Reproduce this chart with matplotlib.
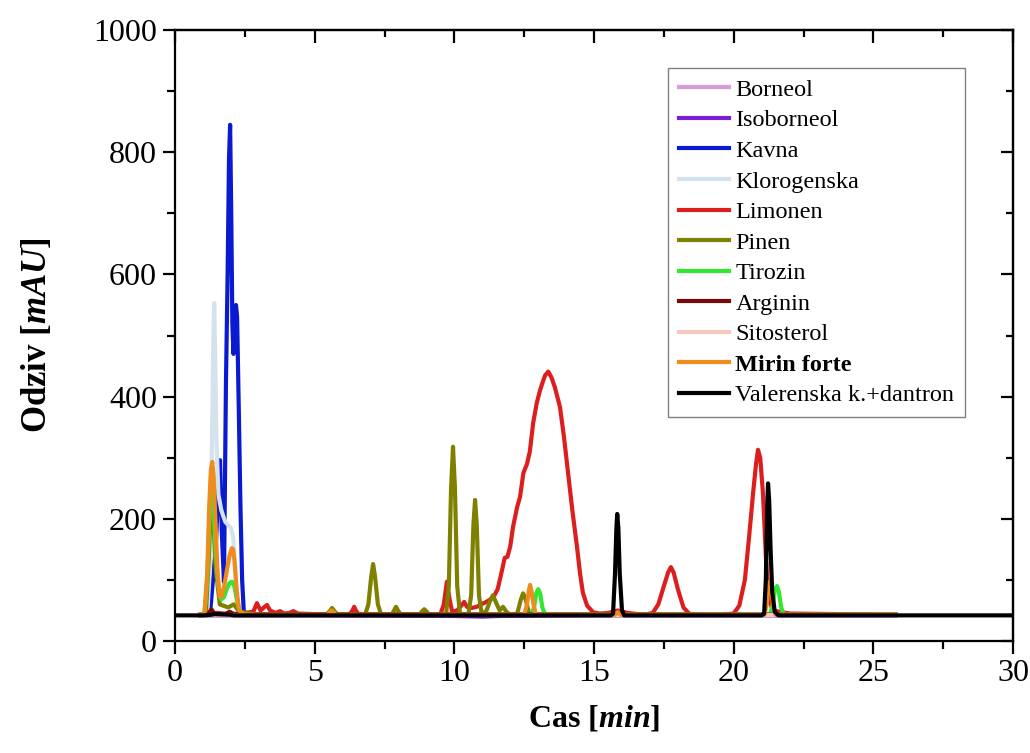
import matplotlib
matplotlib.use("Agg")
import matplotlib.pyplot as plt
from matplotlib.ticker import MultipleLocator

plt.rcParams['font.family'] = ['Liberation Serif', 'DejaVu Serif']
plt.rcParams['mathtext.fontset'] = 'custom'
plt.rcParams['mathtext.it'] = 'Liberation Serif:italic:bold'
plt.rcParams['mathtext.rm'] = 'Liberation Serif:bold'

# ---------------- data (time [min], response [mAU]) ----------------
borneol_t = [0.9, 5.0, 10.0, 15.0, 20.0, 25.8]
borneol_v = [43, 43, 43, 43, 43, 43]

isoborneol_t = [0.9, 5.0, 10.0, 11.0, 11.6, 15.0, 20.0, 25.8]
isoborneol_v = [42, 42, 41, 40, 41, 42, 42, 42]

kavna_t = [0.9, 1.25, 1.45, 1.55, 1.61, 1.67, 1.75, 1.82, 1.88, 1.93, 1.97, 2.01,
           2.05, 2.09, 2.14, 2.18, 2.22, 2.28, 2.34, 2.40, 2.46, 2.6, 3.0, 25.8]
kavna_v = [43, 45, 150, 250, 296, 180, 97, 420, 600, 790, 845, 700,
           520, 470, 510, 550, 530, 380, 220, 100, 48, 44, 43, 43]

klorogenska_t = [0.9, 1.15, 1.25, 1.32, 1.37, 1.40, 1.43, 1.48, 1.55, 1.65, 1.72, 1.80,
                 1.90, 2.00, 2.08, 2.15, 2.22, 2.30, 2.5, 25.8]
klorogenska_v = [43, 45, 120, 320, 500, 553, 480, 330, 240, 215, 205, 195,
                 190, 185, 170, 120, 70, 46, 43, 43]

limonen_t = [0.9, 1.2, 1.5, 2.0, 2.5, 2.8, 2.93, 3.06, 3.18, 3.29, 3.4, 3.6, 3.76, 3.9,
             4.1, 4.23, 4.4, 5.0, 6.25, 6.35, 6.41, 6.47, 6.57, 9.5, 9.62, 9.73, 9.82,
             9.92, 10.1, 10.25, 10.35, 10.45, 10.6, 10.8, 10.95, 11.1, 11.25, 11.4, 11.55,
             11.7, 11.8, 11.9, 12.0, 12.1, 12.25, 12.35, 12.47, 12.6, 12.7, 12.82, 12.95,
             13.07, 13.17, 13.25, 13.36, 13.47, 13.6, 13.78, 13.92, 14.07, 14.22, 14.39,
             14.5, 14.6, 14.75, 14.97, 15.2, 15.5, 15.85, 16.2, 16.6, 16.9, 17.1, 17.3,
             17.5, 17.65, 17.75, 17.85, 18.0, 18.2, 18.4, 18.6, 19.5, 20.0, 20.2, 20.4,
             20.55, 20.7, 20.8, 20.87, 20.95, 21.05, 21.15, 21.25, 21.4, 22.0, 25.8]
limonen_v = [43, 45, 46, 44, 46, 48, 62, 50, 55, 59, 50, 46, 49, 45,
             46, 49, 45, 44, 44, 50, 56, 50, 44, 44, 60, 97, 70,
             48, 50, 58, 64, 56, 54, 56, 60, 63, 67, 72, 85,
             115, 136, 138, 155, 187, 220, 236, 275, 290, 310, 357, 390,
             411, 425, 435, 441, 432, 415, 383, 335, 275, 215, 154,
             110, 79, 58, 47, 45, 46, 50, 46, 44, 44, 46, 60,
             90, 112, 121, 112, 85, 55, 45, 43, 43, 45, 58, 100,
             170, 245, 290, 313, 300, 240, 140, 70, 50, 45, 43]

pinen_t = [0.9, 1.1, 1.2, 1.27, 1.32, 1.37, 1.45, 1.6, 1.9, 2.1, 2.3, 3.0, 5.4, 5.52,
           5.62, 5.72, 5.84, 6.8, 6.92, 7.02, 7.09, 7.16, 7.26, 7.38, 7.75, 7.84, 7.91,
           7.98, 8.08, 8.75, 8.85, 8.92, 8.99, 9.1, 9.7, 9.8, 9.88, 9.95, 10.02, 10.1,
           10.2, 10.5, 10.6, 10.68, 10.74, 10.8, 10.88, 10.98, 11.15, 11.28, 11.38, 11.5,
           11.62, 11.74, 11.86, 12.0, 12.25, 12.38, 12.46, 12.55, 12.68, 13.0, 25.8]
pinen_v = [43, 45, 130, 210, 230, 200, 120, 60, 55, 60, 48, 43, 43, 48,
           54, 48, 43, 43, 60, 105, 126, 105, 60, 43, 43, 50, 56,
           50, 43, 43, 49, 52, 49, 43, 43, 90, 250, 318, 250, 90,
           45, 43, 75, 190, 231, 190, 75, 43, 50, 66, 75, 62,
           50, 56, 48, 43, 45, 68, 78, 68, 45, 43, 43]

tirozin_t = [0.9, 1.05, 1.15, 1.22, 1.28, 1.32, 1.37, 1.45, 1.55, 1.65, 1.75, 1.85,
             1.95, 2.04, 2.12, 2.2, 2.3, 2.45, 3.0, 5.5, 5.65, 5.8, 12.75, 12.85,
             12.93, 13.0, 13.07, 13.15, 13.25, 21.3, 21.4, 21.48, 21.55, 21.62, 21.7,
             21.8, 25.8]
tirozin_v = [43, 45, 100, 190, 240, 247, 220, 150, 90, 68, 72, 85,
             95, 97, 90, 70, 50, 44, 43, 43, 48, 43, 43, 55,
             78, 85, 78, 55, 43, 43, 60, 85, 90, 80, 55,
             43, 43]

arginin_t = [0.9, 1.2, 1.3, 1.4, 1.8, 1.95, 2.1, 25.8]
arginin_v = [43, 45, 52, 45, 44, 48, 44, 43]

sitosterol_t = [0.9, 5.0, 10.0, 15.0, 20.0, 25.8]
sitosterol_v = [43, 43, 43, 43, 43, 43]

mirin_t = [0.9, 1.05, 1.15, 1.22, 1.28, 1.33, 1.38, 1.45, 1.52, 1.60, 1.68, 1.76,
           1.85, 1.95, 2.03, 2.08, 2.13, 2.20, 2.28, 2.36, 2.5, 3.0, 5.45, 5.6, 5.75,
           12.5, 12.6, 12.66, 12.71, 12.76, 12.83, 12.92, 15.75, 15.85, 15.95, 21.1,
           21.18, 21.24, 21.29, 21.34, 21.42, 21.5, 25.8]
mirin_v = [43, 45, 110, 220, 280, 293, 270, 190, 110, 72, 75, 90,
           115, 140, 152, 150, 130, 85, 55, 45, 44, 43, 43, 50, 43,
           43, 60, 82, 92, 82, 60, 43, 43, 47, 43, 43,
           60, 90, 97, 85, 55, 43, 43]

valerenska_t = [0.0, 1.0, 1.3, 1.4, 2.0, 2.1, 15.6, 15.68, 15.75, 15.8, 15.83, 15.87,
                15.92, 16.0, 16.08, 21.0, 21.09, 21.15, 21.2, 21.23, 21.27, 21.32,
                21.38, 21.47, 21.6, 30.0]
valerenska_v = [42, 42, 43, 44, 43, 42, 42, 45, 110, 185, 208, 185,
                110, 50, 42, 42, 45, 100, 220, 258, 230, 150,
                80, 48, 42, 42]

series_names = ['Borneol', 'Isoborneol', 'Kavna', 'Klorogenska', 'Limonen', 'Pinen',
                'Tirozin', 'Arginin', 'Sitosterol', 'Mirin forte', 'Valerenska k.+dantron']
series_t = [borneol_t, isoborneol_t, kavna_t, klorogenska_t, limonen_t, pinen_t,
            tirozin_t, arginin_t, sitosterol_t, mirin_t, valerenska_t]
series_v = [borneol_v, isoborneol_v, kavna_v, klorogenska_v, limonen_v, pinen_v,
            tirozin_v, arginin_v, sitosterol_v, mirin_v, valerenska_v]
colors = ['#d99ad9', '#7a1fd6', '#0a1ad0', '#d3e2ec', '#dc1e1e', '#808000',
          '#30e830', '#7a0a0a', '#f4c7bf', '#f08c1e', '#000000']

# ---------------- figure ----------------
fig = plt.figure(figsize=(10.30, 7.53), dpi=100)
ax = fig.add_axes([0.170, 0.1487, 0.8135, 0.8113])

for name, t, v, c in zip(series_names, series_t, series_v, colors):
    ax.plot(t, v, color=c, lw=3.0, label=name, solid_joinstyle='round')

ax.set_xlim(0, 30)
ax.set_ylim(0, 1000)
ax.xaxis.set_major_locator(MultipleLocator(5))
ax.xaxis.set_minor_locator(MultipleLocator(2.5))
ax.yaxis.set_major_locator(MultipleLocator(200))
ax.yaxis.set_minor_locator(MultipleLocator(100))

for sp in ax.spines.values():
    sp.set_linewidth(1.6)

ax.tick_params(axis='both', which='major', direction='out', length=9, width=1.6,
               labelsize=23, pad=4)
ax.tick_params(axis='both', which='minor', direction='out', length=6, width=1.6)

secx = ax.secondary_xaxis('top')
secx.xaxis.set_major_locator(MultipleLocator(5))
secx.xaxis.set_minor_locator(MultipleLocator(2.5))
secx.tick_params(axis='x', which='major', direction='in', length=9, width=1.6, labeltop=False)
secx.tick_params(axis='x', which='minor', direction='in', length=5, width=1.6)
secx.spines['top'].set_linewidth(1.6)

secy = ax.secondary_yaxis('right')
secy.yaxis.set_major_locator(MultipleLocator(200))
secy.yaxis.set_minor_locator(MultipleLocator(100))
secy.tick_params(axis='y', which='major', direction='in', length=9, width=1.6, labelright=False)
secy.tick_params(axis='y', which='minor', direction='in', length=5, width=1.6)
secy.spines['right'].set_linewidth(1.6)

ax.set_xlabel(r'Cas [$\mathit{min}$]', fontsize=23, fontweight='bold', labelpad=11)
ax.set_ylabel(r'Odziv [$\mathit{mAU}$]', fontsize=25, fontweight='bold', labelpad=28)

leg = ax.legend(loc='upper right', bbox_to_anchor=(0.943, 0.938), fontsize=17.5,
                frameon=True, fancybox=False, edgecolor='#808080', framealpha=1,
                handlelength=2.05, handletextpad=0.28, labelspacing=0.35,
                borderpad=0.45, borderaxespad=0)
leg.get_frame().set_linewidth(1.0)
for line in leg.get_lines():
    line.set_linewidth(3.0)
leg.get_texts()[9].set_fontweight('bold')

fig.savefig('out.png', dpi=100)
